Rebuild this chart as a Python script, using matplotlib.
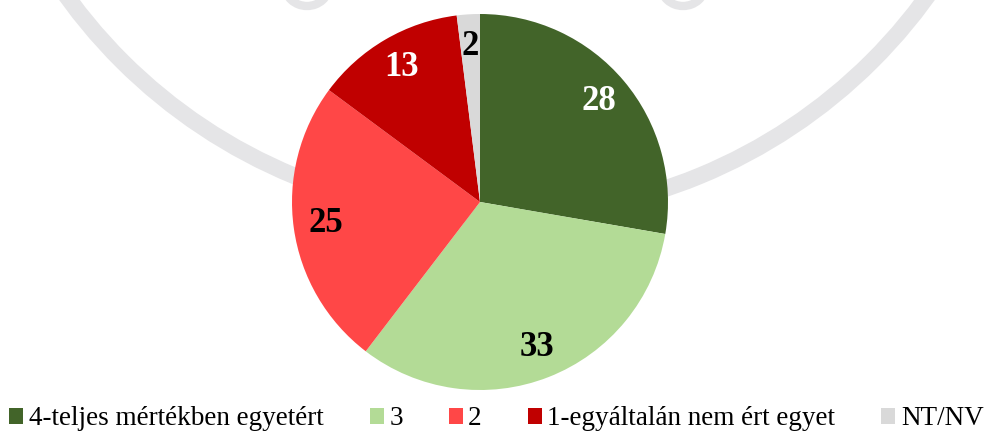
import matplotlib.pyplot as plt
from matplotlib.patches import Arc

plt.rcParams['font.family'] = ['Liberation Serif', 'DejaVu Serif']

labels = ['4-teljes mértékben egyetért', '3', '2', '1-egyáltalán nem ért egyet', 'NT/NV']
values = [28, 33, 25, 13, 2]
colors = ['#426429', '#b3db96', '#ff4747', '#c00000', '#d9d9d9']
text_colors = ['white', 'black', 'black', 'white', 'black']

W, H = 995, 432
fig = plt.figure(figsize=(W / 100, H / 100), dpi=100)

# faint watermark in the background (pixel coordinates)
bg = fig.add_axes([0, 0, 1, 1])
bg.set_xlim(0, W)
bg.set_ylim(H, 0)
bg.axis('off')
wm = '#e5e5e7'
bg.add_patch(Arc((497, -312), 1060, 1056, theta1=0, theta2=360, lw=12, color=wm))
for cx in (307, 683):
    bg.add_patch(Arc((cx, -14), 44, 40, theta1=0, theta2=360, lw=6, color=wm))

# pie
ax = fig.add_axes([292 / W, (H - 390) / H, 376 / W, 376 / H])
wedges, texts = ax.pie(values, colors=colors, startangle=90, counterclock=False,
                       labels=[str(v) for v in values], labeldistance=0.83,
                       textprops=dict(fontsize=25, fontweight='bold'))
for t, c in zip(texts, text_colors):
    t.set_color(c)
    t.set_horizontalalignment('center')
    t.set_verticalalignment('center')
ax.set_xlim(-1, 1)
ax.set_ylim(-1, 1)
ax.set_aspect('equal')

fig.legend(wedges, labels, loc='lower center', bbox_to_anchor=(0.499, -0.055), ncol=5,
           frameon=False, fontsize=19.5, handlelength=0.52, handleheight=0.52,
           handletextpad=0.2, columnspacing=1.7)

fig.savefig('out.png', dpi=100)
